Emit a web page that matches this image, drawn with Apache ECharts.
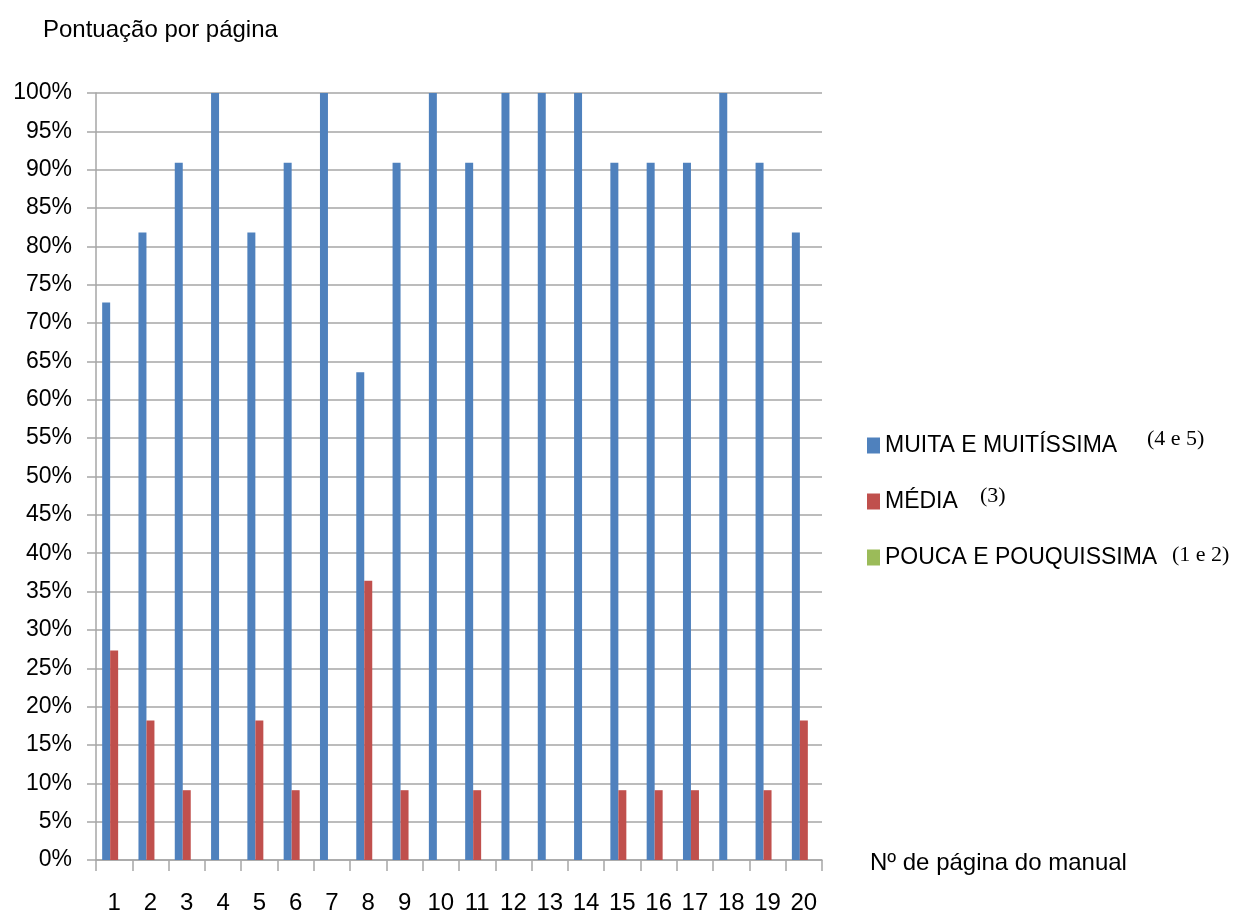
<!DOCTYPE html>
<html>
<head>
<meta charset="utf-8">
<script src="https://cdn.jsdelivr.net/npm/echarts@6/dist/echarts.min.js"></script>
<style>
  html, body { margin: 0; padding: 0; background: #fff; }
  #chart { width: 1238px; height: 915px; }
</style>
</head>
<body>
<div id="chart"></div>
<script>
// Page numbers of the manual
const pages = ['1','2','3','4','5','6','7','8','9','10','11','12','13','14','15','16','17','18','19','20'];

// Share of answers per score band (%)
const muita  = [72.7, 81.8, 90.9, 100, 81.8, 90.9, 100, 63.6, 90.9, 100, 90.9, 100, 100, 100, 90.9, 90.9, 90.9, 100, 90.9, 81.8];
const media  = [27.3, 18.2, 9.1, 0, 18.2, 9.1, 0, 36.4, 9.1, 0, 9.1, 0, 0, 0, 9.1, 9.1, 9.1, 0, 9.1, 18.2];
const pouca  = [0, 0, 0, 0, 0, 0, 0, 0, 0, 0, 0, 0, 0, 0, 0, 0, 0, 0, 0, 0];

const seriesNames = ['MUITA E MUITÍSSIMA', 'MÉDIA', 'POUCA E POUQUISSIMA'];
const seriesNotes = ['(4 e 5)', '(3)', '(1 e 2)'];

const sans = "'Liberation Sans', Arial, sans-serif";
const serif = "'Liberation Serif', 'Times New Roman', serif";
const gridGray = '#a6a6a6';

const chart = echarts.init(document.getElementById('chart'), null, { renderer: 'canvas' });

chart.setOption({
  backgroundColor: '#ffffff',
  animation: false,
  title: {
    text: 'Pontuação por página',
    left: 38, top: 13,
    textStyle: { fontFamily: sans, fontSize: 24, fontWeight: 'normal', color: '#000' }
  },
  grid: { left: 96, right: 416, top: 93, bottom: 55, containLabel: false },
  legend: {
    orient: 'vertical',
    left: 862, top: 429,
    itemWidth: 13, itemHeight: 16,
    itemGap: 33,
    icon: 'rect',
    data: seriesNames,
    textStyle: { fontFamily: sans, fontSize: 23, color: '#000' }
  },
  xAxis: {
    type: 'category',
    data: pages,
    boundaryGap: true,
    axisLine: { lineStyle: { color: gridGray, width: 1.5 } },
    axisTick: { show: true, interval: 0, length: 11, lineStyle: { color: gridGray, width: 1.5 } },
    axisLabel: { interval: 0, margin: 31, fontFamily: sans, fontSize: 24, color: '#000' }
  },
  yAxis: {
    type: 'value',
    min: 0, max: 100, interval: 5,
    axisLine: { show: true, lineStyle: { color: gridGray, width: 1.5 } },
    axisTick: { show: true, length: 9, lineStyle: { color: gridGray, width: 1.5 } },
    splitLine: { show: true, lineStyle: { color: gridGray, width: 1.5 } },
    axisLabel: { formatter: '{value}%', margin: 24, fontFamily: sans, fontSize: 23, color: '#000' }
  },
  series: [
    { name: seriesNames[0], type: 'bar', data: muita, barGap: '0%', barCategoryGap: '34%', itemStyle: { color: '#4F81BD' } },
    { name: seriesNames[1], type: 'bar', data: media, barGap: '0%', barCategoryGap: '34%', itemStyle: { color: '#C0504D' } },
    { name: seriesNames[2], type: 'bar', data: pouca, barGap: '0%', barCategoryGap: '34%', itemStyle: { color: '#9BBB59' } }
  ],
  graphic: [
    { type: 'text', left: 1147, top: 428, style: { text: seriesNotes[0], font: "22px " + serif, fill: '#000' } },
    { type: 'text', left: 980, top: 485, style: { text: seriesNotes[1], font: "22px " + serif, fill: '#000' } },
    { type: 'text', left: 1172, top: 544, style: { text: seriesNotes[2], font: "22px " + serif, fill: '#000' } },
    { type: 'text', left: 870, top: 851, style: { text: 'Nº de página do manual', font: "24px " + sans, fill: '#000' } }
  ]
});
</script>
</body>
</html>
